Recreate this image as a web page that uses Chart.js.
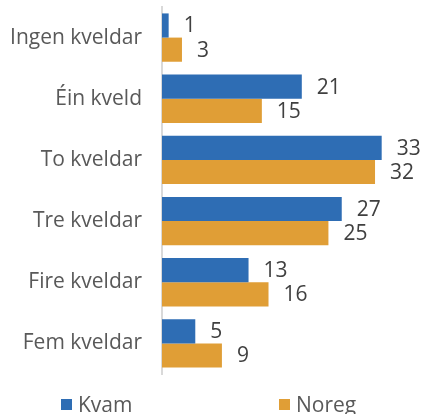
<!DOCTYPE html>
<html>
<head>
<meta charset="utf-8">
<script src="https://cdn.jsdelivr.net/npm/chart.js@4"></script>
<style>
    html, body { margin: 0; padding: 0; background: #fff; overflow: hidden; }
    #wrap { width: 423px; height: 414px; position: relative; }
</style>
</head>
<body>
<div id="wrap"><canvas id="bars"></canvas></div>
<script>
const categories = ['Ingen kveldar', 'Éin kveld', 'To kveldar', 'Tre kveldar', 'Fire kveldar', 'Fem kveldar'];
const kvam = [1, 21, 33, 27, 13, 5];
const noreg = [3, 15, 32, 25, 16, 9];

const FONT = '"Open Sans", sans-serif';

// tal etter kvar stolpe
const valueLabels = {
    id: 'valueLabels',
    afterDatasetsDraw(chart) {
        const ctx = chart.ctx;
        ctx.save();
        ctx.font = '21px ' + FONT;
        ctx.fillStyle = '#404040';
        ctx.textAlign = 'left';
        ctx.textBaseline = 'middle';
        chart.data.datasets.forEach((ds, i) => {
            chart.getDatasetMeta(i).data.forEach((bar, j) => {
                ctx.fillText(String(ds.data[j]), bar.x + 15, bar.y + 1);
            });
        });
        ctx.restore();
    }
};

// forklaring nedst, breitt sprikande slik som i Excel
const spreadLegend = {
    id: 'spreadLegend',
    afterDraw(chart) {
        const ctx = chart.ctx;
        const xs = [61, 279];
        const y = 406;
        ctx.save();
        ctx.font = '21px ' + FONT;
        ctx.textBaseline = 'middle';
        chart.data.datasets.forEach((ds, i) => {
            ctx.fillStyle = ds.backgroundColor;
            ctx.fillRect(xs[i], y - 7, 11, 11);
            ctx.fillStyle = '#595959';
            ctx.fillText(ds.label, xs[i] + 17, y);
        });
        ctx.restore();
    }
};

const ctx = document.getElementById('bars').getContext('2d');
const myChart = new Chart(ctx, {
    type: 'bar',
    data: {
        labels: categories,
        datasets: [{
            label: 'Kvam',
            data: kvam,
            backgroundColor: '#2E6DB4',
            barPercentage: 1,
            categoryPercentage: 0.79
        }, {
            label: 'Noreg',
            data: noreg,
            backgroundColor: '#E09E36',
            barPercentage: 1,
            categoryPercentage: 0.79
        }]
    },
    options: {
        indexAxis: 'y',
        responsive: true,
        maintainAspectRatio: false,
        animation: false,
        layout: {
            padding: { top: 7, bottom: 40, right: 28, left: 0 }
        },
        scales: {
            x: {
                display: false,
                min: 0,
                max: 35
            },
            y: {
                grid: { display: false, drawTicks: false },
                border: { display: true, color: '#D9D9D9', width: 2 },
                ticks: {
                    color: '#595959',
                    padding: 20,
                    font: { family: FONT, size: 21 }
                },
                afterFit(scale) {
                    scale.width = 162;
                    scale.paddingTop = 0;
                    scale.paddingBottom = 0;
                }
            }
        },
        plugins: {
            legend: { display: false },
            tooltip: { enabled: false }
        }
    },
    plugins: [valueLabels, spreadLegend]
});
</script>
</body>
</html>
